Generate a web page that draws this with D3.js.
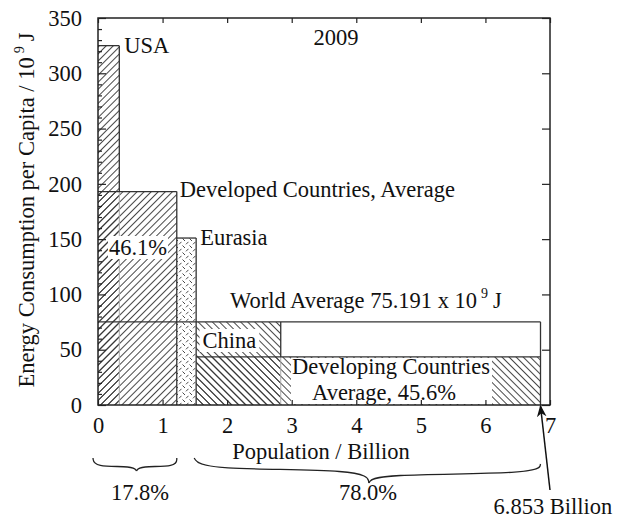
<!DOCTYPE html>
<html><head><meta charset="utf-8">
<script src="https://cdn.jsdelivr.net/npm/d3@7"></script>
<style>
body{margin:0;background:#fff}
text{font-family:"Liberation Serif","Times New Roman",serif;fill:#111;font-size:22.5px}
</style>
</head><body><svg id="c" width="618" height="521"></svg>
<script>
// ---- data ----
const regionNames = ["World", "Developed Countries", "USA", "Eurasia", "China", "Developing Countries"];
const popStart = [0, 0, 0, 1.22, 1.52, 1.52];
const popEnd = [6.853, 1.22, 0.33, 1.52, 2.83, 6.853];
const energyPerCapita = [75.191, 193, 325, 151, 75, 43.5];
const xTickValues = [0, 1, 2, 3, 4, 5, 6, 7];
const yTickValues = [0, 50, 100, 150, 200, 250, 300, 350];
const shareLabels = ["46.1%", "45.6%", "17.8%", "78.0%"];
const totalPopulation = 6.853;

const svg = d3.select("#c");
const x = d3.scaleLinear().domain([0, 7]).range([98, 550]);
const y = d3.scaleLinear().domain([0, 350]).range([405, 18]);
const idx = n => regionNames.indexOf(n);

// ---- patterns ----
const defs = svg.append("defs");
function linePattern(id, angle, size) {
  const p = defs.append("pattern").attr("id", id).attr("patternUnits", "userSpaceOnUse")
    .attr("width", size).attr("height", size).attr("patternTransform", `rotate(${angle})`);
  p.append("line").attr("x1", size / 2).attr("y1", 0).attr("x2", size / 2).attr("y2", size)
    .attr("stroke", "#333").attr("stroke-width", 0.9);
}
linePattern("fwd", 45, 5);
linePattern("back", -45, 5);
const cp = defs.append("pattern").attr("id", "cross").attr("patternUnits", "userSpaceOnUse")
  .attr("width", 7).attr("height", 7);
cp.append("path").attr("d", "M0.5,0.5L3,3M6.5,3.8L4,6.3").attr("stroke", "#333").attr("stroke-width", 0.9).attr("fill", "none");

function rectOf(name) {
  const i = idx(name);
  return { x0: x(popStart[i]), x1: x(popEnd[i]), yT: y(energyPerCapita[i]), y0: y(0) };
}
function fillRect(name, pat) {
  const r = rectOf(name);
  svg.append("rect").attr("x", r.x0).attr("y", r.yT).attr("width", r.x1 - r.x0).attr("height", r.y0 - r.yT)
    .attr("fill", `url(#${pat})`);
}
fillRect("Developed Countries", "fwd");
fillRect("USA", "fwd");
fillRect("Eurasia", "cross");
fillRect("China", "back");
fillRect("Developing Countries", "back");

// ---- outlines ----
const dark = "#333", light = "#aaa";
function seg(x1, y1, x2, y2, c, w) {
  svg.append("line").attr("x1", x1).attr("y1", y1).attr("x2", x2).attr("y2", y2)
    .attr("stroke", c).attr("stroke-width", w || 1.3);
}
const W = rectOf("World"), D = rectOf("Developed Countries"), U = rectOf("USA"),
      E = rectOf("Eurasia"), C = rectOf("China"), G = rectOf("Developing Countries");
seg(U.x0, U.yT, U.x1, U.yT, dark);
seg(U.x1, U.yT, U.x1, D.yT, dark);
seg(U.x1, D.yT, U.x1, U.y0, light, 1);
seg(D.x0, D.yT, D.x1, D.yT, dark);
seg(D.x1, D.yT, D.x1, D.y0, dark);
seg(E.x0, E.yT, E.x1, E.yT, dark);
seg(E.x1, E.yT, E.x1, E.y0, dark);
seg(W.x0, W.yT, W.x1, W.yT, dark);
seg(W.x1, W.yT, W.x1, W.y0, dark);
seg(C.x1, C.yT, C.x1, G.yT, dark);
seg(C.x1, G.yT, C.x1, C.y0, light, 1);

// white background for developing-countries label (below the average line)
svg.append("rect").attr("x", 291).attr("y", G.yT + 1).attr("width", 201).attr("height", G.y0 - G.yT - 2).attr("fill", "#fff");
seg(G.x0, G.yT, G.x1, G.yT, dark);

// ---- labels ----
function label(txt, tx, ty, anchor) {
  return svg.append("text").attr("x", tx).attr("y", ty).attr("text-anchor", anchor || "start").text(txt);
}
function whiteBox(node, px, py) {
  const b = node.node().getBBox();
  svg.insert("rect", () => node.node()).attr("x", b.x - px).attr("y", b.y - py)
    .attr("width", b.width + 2 * px).attr("height", b.height + 2 * py).attr("fill", "#fff");
}
label("USA", U.x1 + 5, 53);
label("2009", 336, 45, "middle");
label("Developed Countries, Average", D.x1 + 3, 197);
const l461 = label(shareLabels[0], 138, 255, "middle");
whiteBox(l461, 1, -1);
label("Eurasia", E.x1 + 4, 245);
const wl = svg.append("text").attr("x", 230).attr("y", 308);
wl.append("tspan").text("World Average " + energyPerCapita[idx("World")] + " x 10");
wl.append("tspan").attr("dy", -10).attr("dx", 4).style("font-size", "14px").text("9");
wl.append("tspan").attr("dy", 10).attr("dx", 5).text("J");
const chinaL = label("China", (C.x0 + C.x1) / 2 - 9, 348, "middle");
whiteBox(chinaL, 3, -1);
label("Developing Countries", 391, 374, "middle");
label("Average, " + shareLabels[1], 384, 399.5, "middle");

// ---- frame & ticks ----
svg.append("rect").attr("x", x(0)).attr("y", y(350)).attr("width", x(7) - x(0)).attr("height", y(0) - y(350))
  .attr("fill", "none").attr("stroke", "#222").attr("stroke-width", 1.5);
const axL = svg.append("g").attr("transform", `translate(${x(0)},0)`)
  .call(d3.axisLeft(y).tickValues(yTickValues).tickSize(-8).tickPadding(16).tickFormat(d3.format("d")));
const axLm = svg.append("g").attr("transform", `translate(${x(0)},0)`)
  .call(d3.axisLeft(y).tickValues(d3.range(0, 351, 10).filter(v => v % 50)).tickSize(-4).tickFormat(""));
const axR = svg.append("g").attr("transform", `translate(${x(7)},0)`)
  .call(d3.axisRight(y).tickValues(yTickValues).tickSize(-8).tickFormat(""));
const axB = svg.append("g").attr("transform", `translate(0,${y(0)})`)
  .call(d3.axisBottom(x).tickValues(xTickValues).tickSize(-5).tickPadding(12).tickFormat(d3.format("d")));
const axT = svg.append("g").attr("transform", `translate(0,${y(350)})`)
  .call(d3.axisTop(x).tickValues(xTickValues).tickSize(-5).tickFormat(""));
[axL, axLm, axR, axB, axT].forEach(g => {
  g.select(".domain").remove();
  g.selectAll(".tick line").attr("stroke", "#222").attr("stroke-width", 1.2);
  g.selectAll("text").attr("font-size", null).attr("font-family", null).style("font-size", "22.5px").attr("fill", "#111");
});
axB.selectAll("text").attr("dy", "0.71em");

// axis titles
const yl = svg.append("text").attr("transform", "translate(34,210) rotate(-90)").attr("text-anchor", "middle");
yl.append("tspan").text("Energy Consumption per Capita / 10");
yl.append("tspan").attr("dy", -10).attr("dx", 4).style("font-size", "14px").text("9");
yl.append("tspan").attr("dy", 10).attr("dx", 5).text("J");
label("Population / Billion", 321, 459, "middle");

// braces
const braceLine = d3.line().curve(d3.curveBasis);
function brace(pts) {
  svg.append("path").attr("d", braceLine(pts)).attr("fill", "none").attr("stroke", "#222").attr("stroke-width", 1.3);
}
brace([[x(0) - 5, 458], [x(0) - 4, 467], [x(0.55), 466], [x(0.55) + 3, 471]]);
brace([[x(0.55) + 3, 471], [x(0.55) + 6, 466], [x(1.22), 467], [x(1.22), 458]]);
brace([[x(1.52) - 2, 458], [x(1.52) + 6, 470], [x(4.15), 469], [x(4.15) + 3, 483]]);
brace([[x(4.15) + 3, 483], [x(4.15) + 8, 474], [x(totalPopulation) - 2, 474], [x(totalPopulation), 464]]);
label(shareLabels[2], 140, 500, "middle");
label(shareLabels[3], 368, 500, "middle");

// arrow to total population
defs.append("marker").attr("id", "arr").attr("viewBox", "0 0 10 10").attr("refX", 9).attr("refY", 5)
  .attr("markerWidth", 8).attr("markerHeight", 8).attr("orient", "auto-start-reverse")
  .append("path").attr("d", "M0,1L10,5L0,9L3,5Z").attr("fill", "#111");
svg.append("line").attr("x1", 550).attr("y1", 490).attr("x2", x(totalPopulation)).attr("y2", y(0) + 1)
  .attr("stroke", "#111").attr("stroke-width", 1.5).attr("marker-end", "url(#arr)");
label(totalPopulation + " Billion", 553, 514, "middle");
</script>
</body></html>
